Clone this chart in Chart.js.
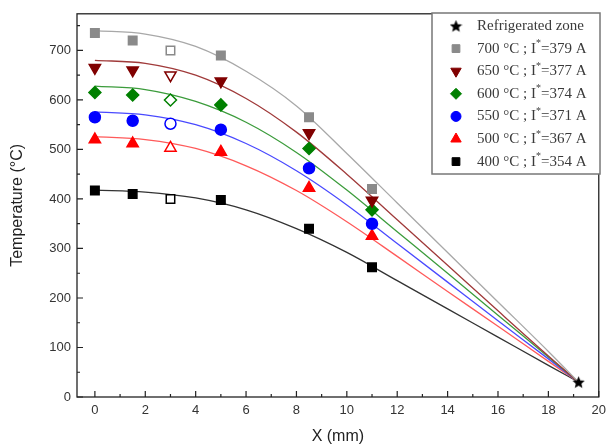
<!DOCTYPE html>
<html>
<head>
<meta charset="utf-8">
<script src="https://cdn.jsdelivr.net/npm/chart.js@4"></script>
<style>
html, body { margin: 0; padding: 0; background: #fff; }
#wrap { width: 612px; height: 448px; }
</style>
</head>
<body>
<div id="wrap"><canvas id="chart" width="612" height="448"></canvas></div>
<script>
// Measured temperatures along the sample (mm)
const xMeasured = [0, 1.5, 3, 5, 8.5, 11];
const t700 = [735, 720, 700, 690, 565, 420];
const t650 = [665, 660, 650, 638, 533, 397];
const t600 = [615, 610, 600, 590, 502, 378];
const t550 = [565, 558, 552, 540, 462, 350];
const t500 = [520, 512, 503, 495, 422, 325];
const t400 = [417, 410, 400, 398, 340, 262];

// Refrigerated zone
const xCold = [19.2];
const tCold = [30];

// Fitted profiles
const xFit = [0, 2, 4, 6, 8, 10, 12, 14, 16, 18, 19.2];
const fit700 = [740, 733, 708, 658, 588, 492, 392, 292, 192, 92, 30];
const fit650 = [680, 674, 650, 603, 535, 450, 358, 266, 174, 83, 30];
const fit600 = [628, 621, 597, 555, 494, 418, 334, 250, 165, 81, 30];
const fit550 = [576, 570, 550, 512, 457, 388, 310, 232, 154, 77, 30];
const fit500 = [526, 520, 502, 467, 417, 354, 284, 213, 143, 72, 30];
const fit400 = [418, 414, 402, 378, 340, 292, 235, 178, 121, 64, 30];

// Legend: furnace temperature and current I*
const legendTemps = ['700', '650', '600', '550', '500', '400'];
const legendCurrents = ['379', '377', '374', '371', '367', '354'];

const xTicks = [0, 2, 4, 6, 8, 10, 12, 14, 16, 18, 20];
const xMinor = [1, 3, 5, 7, 9, 11, 13, 15, 17, 19];
const yTicks = [0, 100, 200, 300, 400, 500, 600, 700];
const yMinor = [50, 150, 250, 350, 450, 550, 650, 750];

// index of the hollow marker in each series
const hollowIndex = 2;

const series = [
  { temps: t700, fit: fit700, color: '#8a8a8a', line: '#a8a8a8', style: 'rect', radius: 6, rotation: 0 },
  { temps: t650, fit: fit650, color: '#800000', line: '#a03a3a', style: 'triangle', radius: 6.5, rotation: 180 },
  { temps: t600, fit: fit600, color: '#008000', line: '#3c9c3c', style: 'rectRot', radius: 6, rotation: 0 },
  { temps: t550, fit: fit550, color: '#0000ff', line: '#4a4aff', style: 'circle', radius: 5.5, rotation: 0 },
  { temps: t500, fit: fit500, color: '#ff0000', line: '#ff5a5a', style: 'triangle', radius: 6.5, rotation: 0 },
  { temps: t400, fit: fit400, color: '#000000', line: '#333333', style: 'rect', radius: 6, rotation: 0 }
];

function starImage(size, color) {
  const c = document.createElement('canvas');
  c.width = c.height = size;
  const g = c.getContext('2d');
  const R = size / 2, r = R * 0.45;
  g.beginPath();
  for (let i = 0; i < 10; i++) {
    const a = -Math.PI / 2 + i * Math.PI / 5;
    const rad = i % 2 ? r : R;
    g.lineTo(R + rad * Math.cos(a), R + 0.6 + rad * Math.sin(a));
  }
  g.closePath();
  g.fillStyle = color;
  g.fill();
  return c;
}
const star = starImage(13, '#000');

const datasets = [];
series.forEach(s => {
  datasets.push({
    data: xFit.map((x, i) => ({ x: x, y: s.fit[i] })),
    showLine: true,
    borderColor: s.line,
    borderWidth: 1.3,
    pointRadius: 0,
    cubicInterpolationMode: 'monotone',
    order: 2
  });
});
series.forEach(s => {
  datasets.push({
    data: xMeasured.map((x, i) => ({ x: x, y: s.temps[i] })),
    showLine: false,
    pointStyle: s.style,
    pointRadius: s.radius,
    rotation: s.rotation,
    borderWidth: 1.5,
    borderColor: s.color,
    backgroundColor: xMeasured.map((x, i) => i === hollowIndex ? '#ffffff' : s.color),
    order: 1
  });
});
datasets.push({
  data: xCold.map((x, i) => ({ x: x, y: tCold[i] })),
  showLine: false,
  pointStyle: star,
  order: 0
});

const serif = '"Liberation Serif", "Times New Roman", serif';

// frame, inward ticks and the boxed legend
const framePlugin = {
  id: 'frame',
  afterDraw(chart) {
    const { ctx, chartArea: a, scales } = chart;
    ctx.save();
    ctx.strokeStyle = '#222';
    ctx.lineWidth = 1.3;
    ctx.strokeRect(a.left, a.top, a.right - a.left, a.bottom - a.top);

    ctx.lineWidth = 1.2;
    ctx.beginPath();
    xTicks.forEach(v => {
      const px = scales.x.getPixelForValue(v);
      ctx.moveTo(px, a.bottom); ctx.lineTo(px, a.bottom - 6);
    });
    xMinor.forEach(v => {
      const px = scales.x.getPixelForValue(v);
      ctx.moveTo(px, a.bottom); ctx.lineTo(px, a.bottom - 3);
    });
    yTicks.forEach(v => {
      const py = scales.y.getPixelForValue(v);
      ctx.moveTo(a.left, py); ctx.lineTo(a.left + 6, py);
    });
    yMinor.forEach(v => {
      const py = scales.y.getPixelForValue(v);
      ctx.moveTo(a.left, py); ctx.lineTo(a.left + 3, py);
    });
    ctx.stroke();

    // legend box
    const bx = 432, by = 13, bw = 168, bh = 161;
    ctx.fillStyle = '#fff';
    ctx.fillRect(bx, by, bw, bh);
    ctx.strokeStyle = '#777';
    ctx.lineWidth = 1.5;
    ctx.strokeRect(bx, by, bw, bh);

    const mx = 456, tx = 477, row0 = 26, step = 22.6;
    ctx.fillStyle = '#3a3a3a';
    ctx.textBaseline = 'middle';
    ctx.textAlign = 'left';
    ctx.font = '15px ' + serif;
    ctx.drawImage(star, mx - 6.5, row0 - 6.5);
    ctx.fillText('Refrigerated zone', tx, row0);

    series.forEach((s, i) => {
      const y = row0 + step * (i + 1);
      ctx.save();
      ctx.fillStyle = s.color;
      ctx.strokeStyle = s.color;
      ctx.lineWidth = 1;
      Chart.helpers.drawPoint(ctx, { pointStyle: s.style, radius: s.radius - 0.5, rotation: s.rotation, borderWidth: 1 }, mx, y);
      ctx.restore();
      ctx.font = '15px ' + serif;
      let x = tx;
      const head = legendTemps[i] + ' \u00B0C ; I';
      ctx.fillText(head, x, y);
      x += ctx.measureText(head).width;
      ctx.font = '10px ' + serif;
      ctx.fillText('*', x, y - 5);
      x += ctx.measureText('*').width;
      ctx.font = '15px ' + serif;
      ctx.fillText('=' + legendCurrents[i] + ' A', x, y);
    });
    ctx.restore();
  }
};

new Chart(document.getElementById('chart'), {
  type: 'scatter',
  data: { datasets: datasets },
  options: {
    responsive: false,
    animation: false,
    layout: { padding: { left: 0, right: 8, top: 10, bottom: 0 } },
    plugins: { legend: { display: false }, tooltip: { enabled: false } },
    scales: {
      x: {
        type: 'linear',
        min: -0.71,
        max: 20,
        afterBuildTicks: s => { s.ticks = xTicks.map(v => ({ value: v })); },
        afterFit: s => { s.height = 51; },
        grid: { display: false, drawTicks: false },
        border: { display: false },
        ticks: {
          padding: 6,
          maxRotation: 0,
          autoSkip: false,
          color: '#333',
          font: { family: '"Liberation Sans", Arial, sans-serif', size: 13 }
        },
        title: {
          display: true,
          text: 'X (mm)',
          color: '#222',
          padding: { top: 4, bottom: 2 },
          font: { family: '"Liberation Sans", Arial, sans-serif', size: 16 }
        }
      },
      y: {
        type: 'linear',
        min: 0,
        max: 774,
        afterBuildTicks: s => { s.ticks = yTicks.map(v => ({ value: v })); },
        afterFit: s => { s.width = 77; },
        grid: { display: false, drawTicks: false },
        border: { display: false },
        ticks: {
          padding: 6,
          color: '#333',
          font: { family: '"Liberation Sans", Arial, sans-serif', size: 13 }
        },
        title: {
          display: true,
          text: 'Temperature (\u00B0C)',
          color: '#222',
          padding: { top: 8, bottom: 0 },
          font: { family: '"Liberation Sans", Arial, sans-serif', size: 16 }
        }
      }
    }
  },
  plugins: [framePlugin]
});
</script>
</body>
</html>
